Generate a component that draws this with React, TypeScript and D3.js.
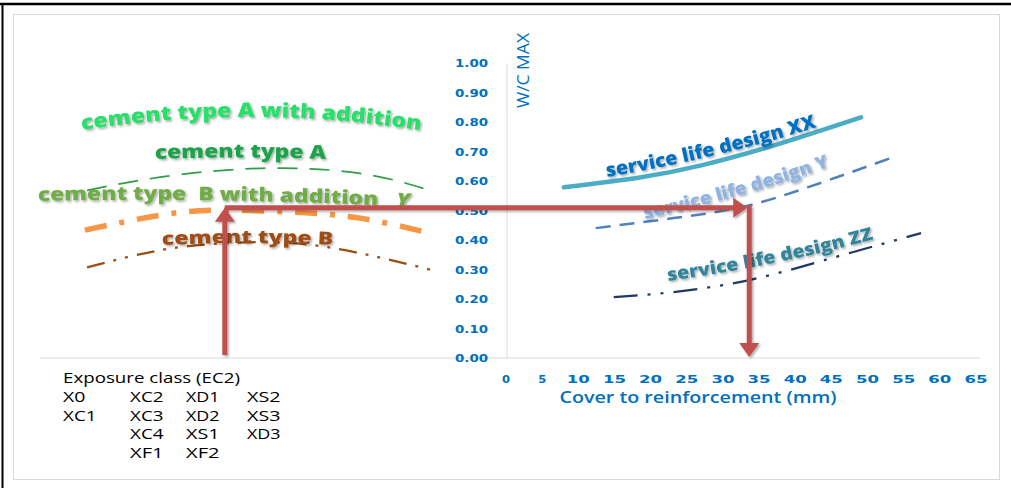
import React from 'react';
import * as d3 from 'd3';

// ---------- DATA ----------
const yTicks = [0, 0.1, 0.2, 0.3, 0.4, 0.5, 0.6, 0.7, 0.8, 0.9, 1.0];
const xTicks = [0, 5, 10, 15, 20, 25, 30, 35, 40, 45, 50, 55, 60, 65];

// Right panel: cover to reinforcement (mm) vs W/C max
const coverXX = [8.0, 18.7, 27.0, 37.1, 49.1];
const wcXX = [0.58, 0.614, 0.654, 0.722, 0.817];
const coverY = [12.4, 23.2, 32.5, 41.8, 53.9];
const wcY = [0.441, 0.475, 0.512, 0.58, 0.685];
const coverZZ = [14.9, 23.2, 33.5, 44.0, 57.4];
const wcZZ = [0.207, 0.224, 0.264, 0.332, 0.424];

// Left panel: exposure-class position (0-100) vs W/C max
const posCemA = [10.7, 27.3, 50, 72.7, 88.6];
const wcCemA = [0.569, 0.614, 0.644, 0.627, 0.569];
const posCemBAdd = [10.2, 27.3, 40.9, 57.5, 72.7, 88.6];
const wcCemBAdd = [0.434, 0.485, 0.502, 0.495, 0.475, 0.424];
const posCemB = [10.7, 27.3, 42.5, 57.5, 72.7, 89.3];
const wcCemB = [0.308, 0.366, 0.39, 0.39, 0.356, 0.298];

// Design path (red arrows)
const designPos = 42.0;
const designWC = 0.51;
const designCover = 33.5;

const exposureHeader = 'Exposure class (EC2)';
const exposureRows = [
  ['X0', 'XC2', 'XD1', 'XS2'],
  ['XC1', 'XC3', 'XD2', 'XS3'],
  ['', 'XC4', 'XS1', 'XD3'],
  ['', 'XF1', 'XF2', ''],
];

const yTitle = 'W/C MAX';
const xTitle = 'Cover to reinforcement (mm)';

// ---------- LAYOUT ----------
const W = 1011;
const H = 488;
const x = d3.scaleLinear().domain([0, 65]).range([506, 976]);
const xLeft = d3.scaleLinear().domain([0, 100]).range([40, 480]);
const y = d3.scaleLinear().domain([0, 1]).range([358, 63.5]);

const FONT = "'Open Sans', 'Liberation Sans', sans-serif";
const BLUE = '#0070C0';
const RED = '#C0504D';

const zip = (a: number[], b: number[]) => a.map((v, i) => [v, b[i]] as [number, number]);

const lineR = d3
  .line<[number, number]>()
  .x((d) => x(d[0]))
  .y((d) => y(d[1]))
  .curve(d3.curveNatural);
const lineL = d3
  .line<[number, number]>()
  .x((d) => xLeft(d[0]))
  .y((d) => y(d[1]))
  .curve(d3.curveNatural);

const labels = [
  { id: 'lA2', text: 'cement type A with addition', path: 'M 82 130 Q 250 104 418 130', len: 340, size: 20, color: '#27E06A' },
  { id: 'lA', text: 'cement type A', path: 'M 155 159 Q 240 156 326 159', len: 171, size: 19, color: '#1FA34A' },
  { id: 'lB', text: 'cement type B', path: 'M 162 245 Q 248 241 333 245', len: 171, size: 18, color: '#9E4D15' },
  { id: 'sXX', text: 'service life design XX', path: 'M 607 177 Q 715 159 814 128', len: 216, size: 19, color: '#0070C0' },
  { id: 'sY', text: 'service life design Y', path: 'M 645 219 Q 740 198 828 167', len: 192, size: 18, color: '#8EB4E3' },
  { id: 'sZZ', text: 'service life design ZZ', path: 'M 668 281 Q 770 267 871 240', len: 210, size: 18, color: '#31849B' },
];

const exposureColX = [63, 130, 186, 247];

function arrowHead(tx: number, ty: number, dir: 'up' | 'down' | 'right', len = 14, half = 10) {
  if (dir === 'up') return `M${tx},${ty} L${tx - half},${ty + len} L${tx + half},${ty + len} Z`;
  if (dir === 'down') return `M${tx},${ty} L${tx - half},${ty - len} L${tx + half},${ty - len} Z`;
  return `M${tx},${ty} L${tx - len},${ty - half} L${tx - len},${ty + half} Z`;
}

export default function App() {
  const ax = xLeft(designPos);
  const ay = y(designWC);
  const bx = x(designCover);
  const by0 = y(0.003);
  const ayBottom = y(0.01);

  return (
    <svg
      width={W}
      height={H}
      style={{ position: 'absolute', left: 0, top: 0, background: '#fff' }}
      fontFamily={FONT}
    >
      <defs>
        <filter id="sh" x="-10%" y="-30%" width="120%" height="160%">
          <feDropShadow dx="1.5" dy="1.5" stdDeviation="1.2" floodColor="#000" floodOpacity="0.35" />
        </filter>
        {labels.map((l) => (
          <path key={l.id} id={l.id} d={l.path} fill="none" />
        ))}
        <path id="lB2" d="M 38 201 Q 220 197 412 207" fill="none" />
      </defs>

      {/* frame */}
      <rect x={0} y={0} width={W} height={H} fill="#fff" />
      <rect x={13.5} y={14.5} width={986} height={465} fill="none" stroke="#D9D9D9" strokeWidth={1} />
      <line x1={0} y1={4} x2={W} y2={4} stroke="#000" strokeWidth={2.5} />
      <line x1={2.5} y1={4} x2={2.5} y2={H} stroke="#000" strokeWidth={2} />

      {/* axes */}
      <line x1={40} y1={y(0)} x2={980} y2={y(0)} stroke="#D9D9D9" strokeWidth={1} />
      <line x1={x(0) + 1} y1={y(1)} x2={x(0) + 1} y2={y(0)} stroke="#D9D9D9" strokeWidth={1} />

      {yTicks.map((t) => (
        <text
          key={'y' + t}
          x={488}
          y={y(t)}
          dy="0.36em"
          textAnchor="end"
          fontFamily="'DejaVu Sans', sans-serif"
          fontWeight="bold"
          fontSize={11}
          fill={BLUE}
          textLength={33}
          lengthAdjust="spacingAndGlyphs"
        >
          {t.toFixed(2)}
        </text>
      ))}
      {xTicks.map((t) => (
        <text
          key={'x' + t}
          x={x(t)}
          y={383}
          textAnchor="middle"
          fontFamily="'DejaVu Sans', sans-serif"
          fontWeight="bold"
          fontSize={11}
          fill={BLUE}
          textLength={String(t).length > 1 ? 23 : 8}
          lengthAdjust="spacingAndGlyphs"
        >
          {t}
        </text>
      ))}
      <text
        transform={`translate(${529},${70.5}) rotate(-90)`}
        textAnchor="middle"
        fontSize={16}
        fill={BLUE}
        textLength={75}
        lengthAdjust="spacingAndGlyphs"
      >
        {yTitle}
      </text>
      <text
        x={698}
        y={403}
        textAnchor="middle"
        fontSize={16}
        fontWeight="600"
        fill={BLUE}
        textLength={277}
        lengthAdjust="spacingAndGlyphs"
      >
        {xTitle}
      </text>

      {/* left panel curves */}
      <path d={lineL(zip(posCemA, wcCemA)) || ''} fill="none" stroke="#2F9E44" strokeWidth={1.7} strokeDasharray="20,12" />
      <path d={lineL(zip(posCemBAdd, wcCemBAdd)) || ''} fill="none" stroke="#F79646" strokeWidth={5.5} strokeDasharray="22,13,5,13" />
      <path d={lineL(zip(posCemB, wcCemB)) || ''} fill="none" stroke="#9E4D15" strokeWidth={2.3} strokeDasharray="18,9,3,9,3,9" />

      {/* right panel curves */}
      <path d={lineR(zip(coverXX, wcXX)) || ''} fill="none" stroke="#4BACC6" strokeWidth={4.5} strokeLinecap="round" />
      <path d={lineR(zip(coverY, wcY)) || ''} fill="none" stroke="#4F81BD" strokeWidth={2.5} strokeDasharray="15,9" />
      <path d={lineR(zip(coverZZ, wcZZ)) || ''} fill="none" stroke="#1F3864" strokeWidth={2.3} strokeDasharray="24,10,3,10,3,10" />

      {/* labels */}
      {labels.map((l) => (
        <text key={'t' + l.id} fontSize={l.size} fontWeight={800} fill={l.color} filter="url(#sh)">
          <textPath href={'#' + l.id} textLength={l.len} lengthAdjust="spacingAndGlyphs">
            {l.text}
          </textPath>
        </text>
      ))}
      <text fontSize={19} fontWeight={800} fill="#70AD47" filter="url(#sh)" style={{ whiteSpace: 'pre' }}>
        <textPath href="#lB2" textLength={372} lengthAdjust="spacingAndGlyphs">
          {'cement type  B with addition   '}
          <tspan fontStyle="italic">Y</tspan>
        </textPath>
      </text>

      {/* design arrows */}
      <g filter="url(#sh)" fill={RED} stroke="none">
        <line x1={ax} y1={ayBottom} x2={ax} y2={ay + 13} stroke={RED} strokeWidth={5} />
        <path d={arrowHead(ax, ay, 'up')} />
        <line x1={ax} y1={ay} x2={bx - 14} y2={ay} stroke={RED} strokeWidth={5} />
        <path d={arrowHead(bx - 1, ay, 'right')} />
        <line x1={bx + 1} y1={ay - 2.5} x2={bx + 1} y2={by0 - 13} stroke={RED} strokeWidth={5} />
        <path d={arrowHead(bx + 1, by0, 'down')} />
      </g>

      {/* exposure classes */}
      <g fontFamily="'Open Sans', 'Liberation Sans', sans-serif" fontSize={15} fill="#000">
        <text x={63} y={383} textLength={177} lengthAdjust="spacingAndGlyphs">
          {exposureHeader}
        </text>
        {exposureRows.map((row, ri) =>
          row.map((c, ci) =>
            c ? (
              <text
                key={ri + '-' + ci}
                x={exposureColX[ci]}
                y={402 + ri * 18.7}
                textLength={c.length * 11.2}
                lengthAdjust="spacingAndGlyphs"
              >
                {c}
              </text>
            ) : null
          )
        )}
      </g>
    </svg>
  );
}
